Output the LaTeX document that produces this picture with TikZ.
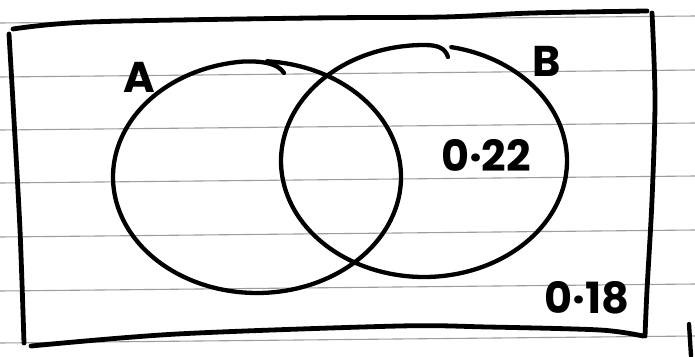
\documentclass[tikz,border=0pt]{standalone}
\usepackage{fontspec}
\setmainfont{Poppins}
\begin{document}
\begin{tikzpicture}[x=1pt,y=-1pt,
  pen/.style={line width=4.3pt, line cap=round, line join=round},
  framepen/.style={line width=4.8pt, line cap=round, line join=round},
  ruled/.style={black!38, line width=1.1pt},
  lab/.style={font=\fontsize{43}{43}\selectfont\bfseries, inner sep=0pt}]
\useasboundingbox (0,0) rectangle (695,356);
\fill[white] (0,0) rectangle (695,356);
% ruled paper lines
\foreach \yl in {23,77,130,183,237,291,343}
  \draw[ruled] (0,\yl) -- (695,{\yl-7});
% hand-drawn frame
\draw[framepen] plot[smooth] coordinates {(13,29) (89,22) (310,18) (443,17) (532,13) (647,11)};
\draw[framepen] plot[smooth] coordinates {(652,13) (655,100) (652,200) (647,290) (645,336)};
\draw[framepen] plot[smooth] coordinates {(9,34) (14,120) (20,230) (24,343)};
\draw[framepen] plot[smooth] coordinates {(31,346) (177,334) (399,326) (488,327) (600,330) (643,336)};
\draw[pen] (689,324) -- (691,356);
% circle A
\draw[pen] plot[domain=-86:265, samples=140, smooth] ({257+144*cos(\x)}, {177+116*sin(\x)})
  .. controls (265,61) and (278,64) .. (284,73);
% circle B
\draw[pen] plot[domain=-79:270, samples=140, smooth] ({424+143*cos(\x)}, {161+116*sin(\x)})
  .. controls (438,45) and (445,48) .. (448,57);
% labels
\node[lab] (labA) at (139,77) {A};
\node[lab] (labB) at (547,61) {B};
\node[lab] (pB) at (486,155) {0·22};
\node[lab] (pN) at (587,298) {0·18};
\end{tikzpicture}
\end{document}
